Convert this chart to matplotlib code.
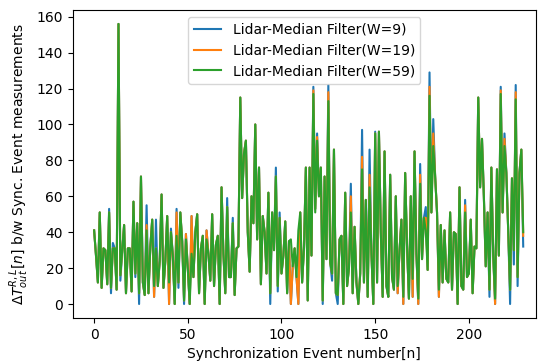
import matplotlib
matplotlib.use('Agg')
import matplotlib.pyplot as plt

# filtered lidar time differences, W=59 (green)
w59 = [41, 27, 12, 51, 9, 31, 30, 11, 51, 9,
       31, 31, 8, 156, 16, 30, 44, 6, 31, 31,
       7, 57, 17, 45, 6, 71, 12, 5, 41, 6,
       32, 47, 10, 31, 10, 24, 61, 9, 24, 49,
       12, 40, 27, 0, 38, 12, 51, 35, 2, 36,
       20, 0, 28, 15, 40, 50, 6, 31, 38, 0,
       36, 28, 13, 50, 10, 33, 38, 0, 65, 28,
       6, 54, 15, 15, 45, 5, 31, 32, 115, 59,
       84, 91, 40, 18, 60, 45, 100, 36, 76, 11,
       49, 40, 17, 62, 6, 51, 30, 71, 10, 48,
       17, 27, 46, 6, 35, 36, 21, 31, 15, 41,
       51, 12, 31, 76, 2, 76, 27, 117, 51, 91,
       60, 76, 2, 71, 25, 113, 23, 17, 86, 6,
       5, 36, 38, 0, 62, 10, 20, 51, 6, 43,
       12, 0, 17, 75, 12, 58, 4, 65, 28, 0,
       95, 12, 96, 40, 4, 85, 10, 4, 72, 15,
       8, 60, 10, 30, 47, 4, 73, 32, 3, 60,
       14, 85, 28, 3, 67, 25, 48, 41, 19, 116,
       51, 88, 71, 51, 8, 44, 12, 41, 14, 12,
       51, 8, 40, 39, 0, 65, 10, 8, 51, 15,
       17, 47, 6, 32, 31, 115, 65, 92, 60, 21,
       51, 8, 76, 27, 3, 75, 27, 117, 51, 88,
       73, 41, 8, 70, 30, 114, 15, 73, 86, 40]

# points where W=19 (orange) differs from W=59
w19_diff = {28: 44, 32: 4, 40: 0, 44: 51, 49: 39, 52: 49, 60: 41, 67: 0,
            105: 0, 109: 0, 117: 119, 118: 53, 119: 93, 125: 118, 137: 60,
            143: 82, 147: 72, 162: 6, 165: 0, 170: 4, 173: 0, 174: 72,
            177: 48, 179: 121, 181: 95, 184: 4, 198: 55, 214: 0, 217: 119,
            219: 92, 225: 118, 229: 38}

# points where W=9 (blue) differs from W=19
w9_diff = {8: 53, 9: 6, 10: 34, 14: 13, 22: 15, 24: 0, 28: 55, 33: 47,
           41: 42, 44: 53, 45: 9, 48: 0, 71: 59, 74: 48, 94: 0, 97: 76,
           98: 7, 99: 51, 117: 121, 119: 95, 122: 0, 125: 122, 127: 13,
           130: 0, 137: 67, 143: 97, 147: 86, 150: 96, 174: 78, 177: 54,
           179: 129, 181: 103, 194: 0, 198: 58, 211: 4, 217: 121, 219: 95,
           222: 0, 224: 22, 225: 122, 226: 10, 229: 32}

w19 = list(w59)
for k, v in w19_diff.items():
    w19[k] = v
w9 = list(w19)
for k, v in w9_diff.items():
    w9[k] = v

n = list(range(len(w59)))

fig = plt.figure(figsize=(5.39, 3.62), dpi=100)
ax = fig.add_axes([0.135, 0.1215, 0.859, 0.851])
ax.plot(n, w9, label='Lidar-Median Filter(W=9)')
ax.plot(n, w19, label='Lidar-Median Filter(W=19)')
ax.plot(n, w59, label='Lidar-Median Filter(W=59)')
ax.set_xlim(-11.4, 235.7)
ax.set_xlabel('Synchronization Event number[n]')
ax.set_ylabel(r'$\Delta T^{R,L}_{out}[n]$ b/w Sync. Event measurements')
ax.legend(loc='upper center')
fig.savefig('out.png', dpi=100)
